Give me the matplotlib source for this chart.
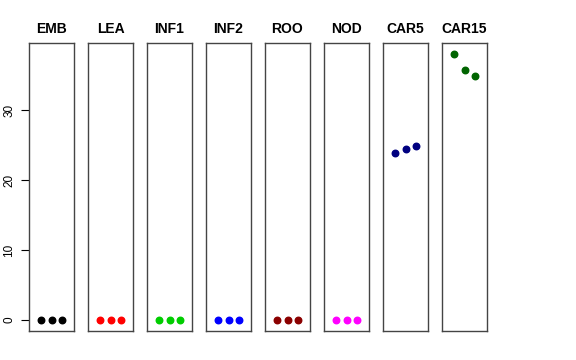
import matplotlib
matplotlib.use("Agg")
import matplotlib.pyplot as plt

plt.rcParams["font.family"] = ["Liberation Sans", "DejaVu Sans"]

# panel names, colours and values
groups = ["EMB", "LEA", "INF1", "INF2", "ROO", "NOD", "CAR5", "CAR15"]
colors = ["black", "red", "#00CD00", "blue", "#8B0000", "magenta", "#000080", "#006400"]
x = [1, 2, 3]
emb = [0, 0, 0]
lea = [0, 0, 0]
inf1 = [0, 0, 0]
inf2 = [0, 0, 0]
roo = [0, 0, 0]
nod = [0, 0, 0]
car5 = [23.95, 24.4, 24.95]
car15 = [38.05, 35.7, 34.9]
values = [emb, lea, inf1, inf2, roo, nod, car5, car15]

W, H = 576, 360
fig = plt.figure(figsize=(W / 100, H / 100), dpi=100)

for i, (name, col, vals) in enumerate(zip(groups, colors, values)):
    left = 29 + 59 * i
    ax = fig.add_axes([left / W, (H - 331) / H, 45 / W, 288 / H])
    ax.scatter(x, vals, s=22, color=col, zorder=3)
    ax.set_xlim(2 - 2.18, 2 + 2.18)
    ax.set_ylim(-1.55, 39.6)
    ax.set_xticks([])
    for sp in ax.spines.values():
        sp.set_color("#444444")
        sp.set_linewidth(1.0)
    ax.set_title(name, fontsize=10, fontweight="bold", pad=7)
    if i == 0:
        ax.set_yticks([0, 10, 20, 30])
        ax.tick_params(axis="y", length=6, labelsize=8.5, pad=4)
        for lab in ax.get_yticklabels():
            lab.set_rotation(90)
            lab.set_va("center")
    else:
        ax.set_yticks([])

fig.savefig("out.png", dpi=100)
